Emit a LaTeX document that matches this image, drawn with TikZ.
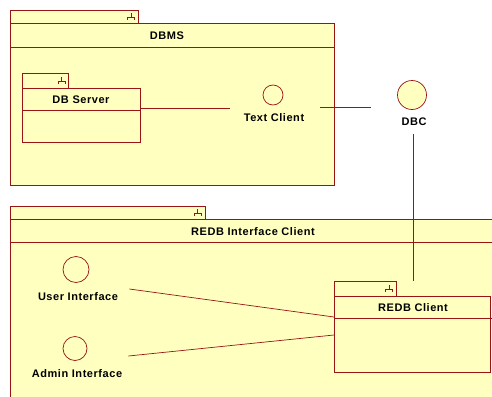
\documentclass[tikz,border=0pt]{standalone}
\usepackage{fontspec}
\setmainfont{Liberation Sans}
\newfontfamily\umlfont[LetterSpace=5]{Liberation Sans}
\definecolor{umlfill}{RGB}{255,255,192}
\definecolor{umlline}{RGB}{153,20,20}
\tikzset{
  compicon/.pic={
    \draw[umlline,line width=0.6pt] (-3.5,3) -- (-3.5,0) -- (3.5,0) -- (3.5,3) (0,0) -- (0,-4);
  }
}
\begin{document}
\begin{tikzpicture}[x=1pt,y=-1pt,line width=0.7pt,
  box/.style={draw=umlline,fill=umlfill},
  lbl/.style={font=\umlfont\bfseries\fontsize{11}{12}\selectfont,text=black,inner sep=0pt},
  iface/.style={circle,draw=umlline,fill=umlfill,inner sep=0pt},
  group/.style={inner sep=0pt},
  wire/.style={draw=umlline}]
\useasboundingbox (0,0) rectangle (492,396);
\fill[white] (0,0) rectangle (492,396);
\clip (0,0) rectangle (492,396);

% DBMS package
\draw[box] (10,10) rectangle (138,23);
\pic at (131,17) {compicon};
\draw[box] (10,23) rectangle (334,185);
\draw[umlline] (10,47) -- (334,47);
\node[lbl] (dbms) at (167,36) {DBMS};

% DB Server component
\draw[box] (22,73) rectangle (68,88);
\pic at (61.5,81) {compicon};
\node[box,anchor=north west,minimum width=118pt,minimum height=54pt,inner sep=0pt] (dbserver) at (22,88) {};
\draw[umlline] (22,110) -- (140,110);
\node[lbl] (dbserverlbl) at (81,100) {DB Server};

% Text Client interface
\node[iface,minimum size=20pt] (tcircle) at (273,95) {};
\node[lbl] (tclbl) at (274,118) {Text Client};
\node[group,minimum width=90pt,minimum height=40pt] (textclient) at (275,108) {};

% DBC interface
\node[iface,minimum size=29pt] (dbccircle) at (412,95) {};
\node[lbl] (dbclbl) at (414,122) {DBC};
\node[group,minimum width=82pt,minimum height=54pt] (dbc) at (412,107) {};

% REDB Interface Client package
\draw[box] (10,206) rectangle (205,219);
\pic at (197.5,213) {compicon};
\draw[box] (10,219) rectangle (500,400);
\draw[umlline] (10,242) -- (500,242);
\node[lbl] (redbiclbl) at (253,232) {REDB Interface Client};

% User / Admin interfaces
\node[iface,minimum size=26pt] (uicircle) at (76,269.5) {};
\node[lbl] (uilbl) at (78,297) {User Interface};
\node[group,minimum width=92pt,minimum height=20pt] (userif) at (83,289) {};
\node[iface,minimum size=24pt] (aicircle) at (75,348.5) {};
\node[lbl] (ailbl) at (77,374) {Admin Interface};
\node[group,minimum width=98pt,minimum height=20pt] (adminif) at (79,356) {};

% REDB Client component
\draw[box] (334,281) rectangle (396,296);
\pic at (389,289) {compicon};
\node[box,anchor=north west,minimum width=156pt,minimum height=76pt,inner sep=0pt] (redbclient) at (334,296) {};
\draw[umlline] (334,318) -- (492,318);
\node[lbl] (redbclbl) at (413,308) {REDB Client};
\coordinate (redbtop) at (413,281);

% connectors
\draw[wire] (dbserver.east |- 0,108) -- (textclient.west |- 0,108);
\draw[wire] (textclient.east |- 0,107) -- (dbc.west |- 0,107);
\draw[wire] (dbc.south -| redbtop) -- (redbtop);
\draw[wire] (userif.east) -- (redbclient.west |- 0,317);
\draw[wire] (adminif.east) -- (redbclient.west |- 0,335);
\end{tikzpicture}
\end{document}
